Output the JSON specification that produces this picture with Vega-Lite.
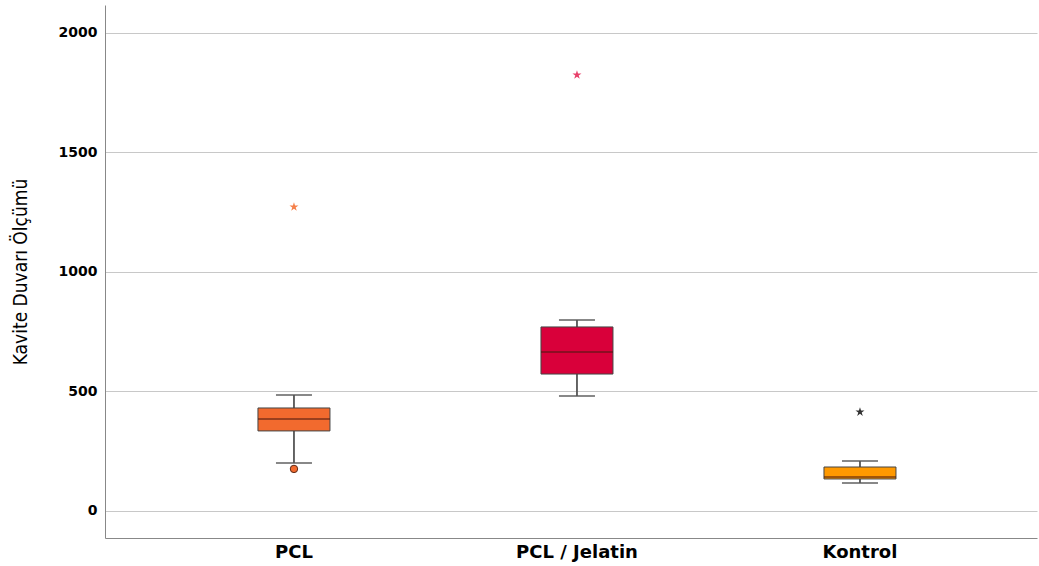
{
  "$schema": "https://vega.github.io/schema/vega-lite/v6.json",
  "width": 932,
  "height": 533,
  "autosize": {"type": "none"},
  "padding": {"left": 105, "top": 5, "right": 2, "bottom": 28},
  "background": "white",
  "config": {
    "view": {"stroke": null},
    "font": "DejaVu Sans"
  },
  "datasets": {
    "stats": [
      {"group": "PCL", "min": 201, "q1": 335, "median": 385, "q3": 431, "max": 485},
      {"group": "PCL / Jelatin", "min": 481, "q1": 573, "median": 665, "q3": 770, "max": 799},
      {"group": "Kontrol", "min": 117, "q1": 134, "median": 142, "q3": 184, "max": 209}
    ],
    "circles": [
      {"group": "PCL", "value": 176}
    ],
    "stars": [
      {"group": "PCL", "value": 1272},
      {"group": "PCL / Jelatin", "value": 1824},
      {"group": "Kontrol", "value": 414}
    ]
  },
  "data": {"name": "stats"},
  "encoding": {
    "x": {
      "field": "group",
      "type": "nominal",
      "sort": ["PCL", "PCL / Jelatin", "Kontrol"],
      "scale": {"paddingInner": 0, "paddingOuter": 0.1466, "align": 0.572},
      "axis": {
        "orient": "bottom",
        "title": null,
        "labelAngle": 0,
        "labelFont": "DejaVu Sans",
        "labelFontSize": 18,
        "labelFontWeight": "bold",
        "labelColor": "#000",
        "labelPadding": 5,
        "ticks": false,
        "domainColor": "#888",
        "domainWidth": 1,
        "grid": false
      }
    }
  },
  "layer": [
    {
      "mark": {"type": "rule", "color": "#555", "strokeWidth": 1.8},
      "encoding": {
        "y": {
          "field": "min",
          "type": "quantitative",
          "scale": {"domain": [-113, 2117], "nice": false, "zero": false},
          "axis": {
            "title": "Kavite Duvarı Ölçümü",
            "titleFont": "DejaVu Sans Condensed, Liberation Sans Narrow, sans-serif",
            "titleFontSize": 19,
            "titleFontWeight": "normal",
            "titleColor": "#000",
            "titlePadding": 28,
            "values": [0, 500, 1000, 1500, 2000],
            "format": "d",
            "labelFont": "DejaVu Sans",
            "labelFontSize": 14,
            "labelFontWeight": "bold",
            "labelColor": "#000",
            "labelPadding": 8,
            "ticks": false,
            "grid": true,
            "gridColor": "#c8c8c8",
            "gridWidth": 1,
            "domainColor": "#888",
            "domainWidth": 1
          }
        },
        "y2": {"field": "max"}
      }
    },
    {
      "mark": {"type": "tick", "color": "#555", "thickness": 2, "size": 36},
      "encoding": {"y": {"field": "min", "type": "quantitative"}}
    },
    {
      "mark": {"type": "tick", "color": "#555", "thickness": 2, "size": 36},
      "encoding": {"y": {"field": "max", "type": "quantitative"}}
    },
    {
      "mark": {"type": "bar", "size": 72, "stroke": "#444", "strokeWidth": 1},
      "encoding": {
        "y": {"field": "q1", "type": "quantitative"},
        "y2": {"field": "q3"},
        "color": {
          "field": "group",
          "type": "nominal",
          "scale": {"domain": ["PCL", "PCL / Jelatin", "Kontrol"], "range": ["#F26A2E", "#D9003A", "#FF9900"]},
          "legend": null
        }
      }
    },
    {
      "mark": {"type": "tick", "color": "#4a1a10", "thickness": 1.5, "size": 72},
      "encoding": {"y": {"field": "median", "type": "quantitative"}}
    },
    {
      "data": {"name": "circles"},
      "mark": {"type": "point", "shape": "circle", "filled": true, "size": 55, "fill": "#F26A2E", "stroke": "#5a2a1a", "strokeWidth": 1, "opacity": 1},
      "encoding": {"y": {"field": "value", "type": "quantitative"}}
    },
    {
      "data": {"name": "stars"},
      "mark": {"type": "point", "shape": "M0,-1L0.2245,-0.309L0.951,-0.309L0.363,0.118L0.588,0.809L0,0.382L-0.588,0.809L-0.363,0.118L-0.951,-0.309L-0.2245,-0.309Z", "filled": true, "size": 90, "opacity": 1},
      "encoding": {
        "y": {"field": "value", "type": "quantitative"},
        "fill": {
          "field": "group",
          "type": "nominal",
          "scale": {"domain": ["PCL", "PCL / Jelatin", "Kontrol"], "range": ["#F5804A", "#E8406A", "#333333"]},
          "legend": null
        }
      }
    }
  ]
}
